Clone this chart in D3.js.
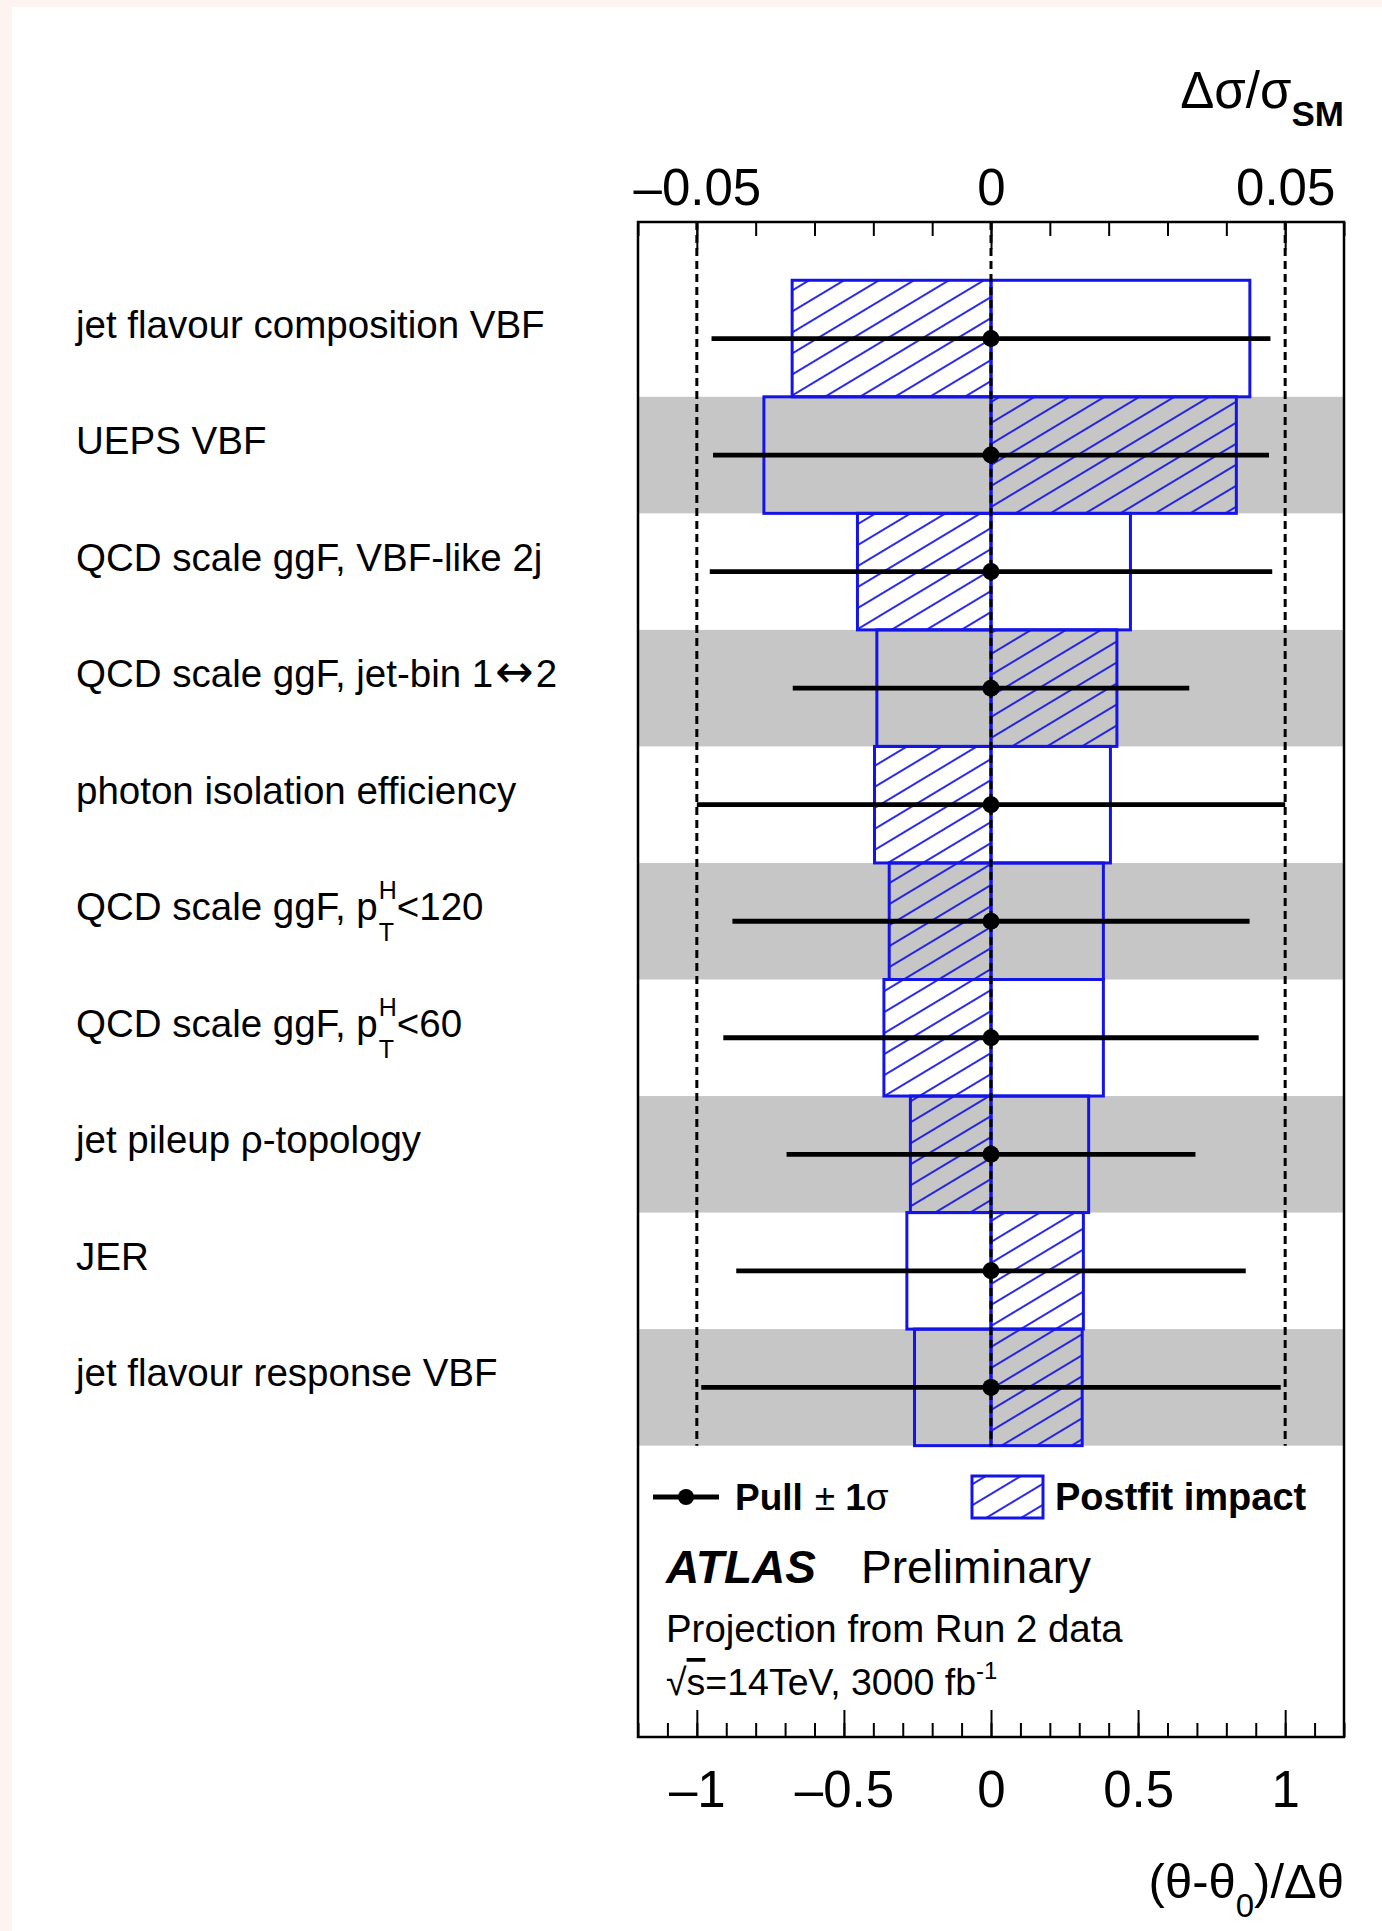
<!DOCTYPE html>
<html>
<head>
<meta charset="utf-8">
<script src="https://cdn.jsdelivr.net/npm/d3@7"></script>
<style>
  html, body { margin: 0; padding: 0; background: #fdf3f0; }
  svg { display: block; }
  text { font-family: "Liberation Sans", Arial, Helvetica, sans-serif; fill: #000; }
</style>
</head>
<body>
<svg id="chart" width="1382" height="1931"></svg>
<script>
// Nuisance parameters, ranked by impact (top = largest)
const parameters = [
  "jet flavour composition VBF",
  "UEPS VBF",
  "QCD scale ggF, VBF-like 2j",
  "QCD scale ggF, jet-bin 1\u21942",
  "photon isolation efficiency",
  "QCD scale ggF, p_{T}^{H}<120",
  "QCD scale ggF, p_{T}^{H}<60",
  "jet pileup \u03c1-topology",
  "JER",
  "jet flavour response VBF"
];
// Pull (θ-θ0)/Δθ and its ±1σ uncertainty
const pullValues = [0, 0, 0, 0, 0, 0, 0, 0, 0, 0];
const pullErrors = [0.95, 0.945, 0.956, 0.674, 1.0, 0.879, 0.91, 0.695, 0.866, 0.985];
// Post-fit impact on Δσ/σ_SM: hatched (+1σ) and open (−1σ) boxes
const impactPlus  = [-0.0338, 0.0417, -0.0227, 0.0214, -0.0198, -0.0173, -0.0182, -0.0137, 0.0157, 0.0155];
const impactMinus = [ 0.0440, -0.0386, 0.0237, -0.0194, 0.0203, 0.0191, 0.0191, 0.0166, -0.0143, -0.0130];
// Axis ticks
const impactTicks = [-0.05, 0, 0.05];
const pullTicks = [-1, -0.5, 0, 0.5, 1];
const impactMinorTicks = d3.range(-6, 7).map(i => i / 100);
const pullMinorTicks = d3.range(-12, 13).map(i => i / 10);

const svg = d3.select("#chart");
const BLUE = "#1414e6";

// white card
svg.append("rect").attr("x", 12).attr("y", 7).attr("width", 1370).attr("height", 1924).attr("fill", "#fff");

// frame geometry
const L = 638, R = 1344, T = 222, B = 1737;
const xPull = d3.scaleLinear().domain([-1.2, 1.2]).range([L, R]);
const xImp = d3.scaleLinear().domain([-0.06, 0.06]).range([L, R]);
const y = d3.scaleLinear().domain([-1, 12]).range([T, B]);

// hatch pattern
const defs = svg.append("defs");
const pat = defs.append("pattern")
  .attr("id", "hatch")
  .attr("patternUnits", "userSpaceOnUse")
  .attr("width", 10).attr("height", 18)
  .attr("patternTransform", "rotate(-31)");
pat.append("line")
  .attr("x1", -1).attr("x2", 11).attr("y1", 9).attr("y2", 9)
  .attr("stroke", BLUE).attr("stroke-width", 1.8);

// alternating grey bands
const plot = svg.append("g");
plot.selectAll("rect.band")
  .data(parameters.map((p, i) => i).filter(i => i % 2 === 1))
  .join("rect")
  .attr("class", "band")
  .attr("x", L).attr("width", R - L)
  .attr("y", i => y(i - 0.5)).attr("height", i => y(i + 0.5) - y(i - 0.5))
  .attr("fill", "#c6c6c6");

// impact boxes
function boxes(values, cls, fill) {
  plot.selectAll("rect." + cls)
    .data(values)
    .join("rect")
    .attr("class", cls)
    .attr("x", v => Math.min(xImp(0), xImp(v)))
    .attr("width", v => Math.abs(xImp(v) - xImp(0)))
    .attr("y", (v, i) => y(i - 0.5))
    .attr("height", (v, i) => y(i + 0.5) - y(i - 0.5))
    .attr("fill", fill)
    .attr("stroke", BLUE)
    .attr("stroke-width", 3);
}
boxes(impactMinus, "open", "none");
boxes(impactPlus, "hatched", "url(#hatch)");

// dashed reference lines at -1, 0, +1
plot.selectAll("line.ref")
  .data([-1, 0, 1])
  .join("line")
  .attr("class", "ref")
  .attr("x1", d => xPull(d)).attr("x2", d => xPull(d))
  .attr("y1", y(-1)).attr("y2", y(9.5))
  .attr("stroke", "#000").attr("stroke-width", 3)
  .attr("stroke-dasharray", "8,5");

// pulls with ±1σ bars
plot.selectAll("line.err")
  .data(pullValues)
  .join("line")
  .attr("class", "err")
  .attr("x1", (v, i) => xPull(v - pullErrors[i]))
  .attr("x2", (v, i) => xPull(v + pullErrors[i]))
  .attr("y1", (v, i) => y(i)).attr("y2", (v, i) => y(i))
  .attr("stroke", "#000").attr("stroke-width", 4.8);
plot.selectAll("circle.pull")
  .data(pullValues)
  .join("circle")
  .attr("class", "pull")
  .attr("cx", v => xPull(v)).attr("cy", (v, i) => y(i))
  .attr("r", 8.5).attr("fill", "#000");

// frame
svg.append("rect").attr("x", L).attr("y", T).attr("width", R - L).attr("height", B - T)
  .attr("fill", "none").attr("stroke", "#000").attr("stroke-width", 2.5);

// axes
const fmt = v => (v < 0 ? "\u2013" : "") + String(Math.abs(v));
function styleAxis(g) {
  g.select(".domain").remove();
  g.selectAll(".tick line").attr("stroke", "#000").attr("stroke-width", 2);
}
svg.append("g").attr("transform", `translate(0,${T})`)
  .call(d3.axisTop(xImp).tickValues(impactMinorTicks).tickSize(-14).tickFormat(""))
  .call(styleAxis);
svg.append("g").attr("transform", `translate(0,${T})`)
  .call(d3.axisTop(xImp).tickValues(impactTicks).tickSize(-27).tickFormat(fmt))
  .call(styleAxis)
  .call(g => g.selectAll("text").attr("y", -17).attr("dy", 0)
    .attr("font-size", 51).attr("font-family", null).attr("fill", "#000"));
svg.append("g").attr("transform", `translate(0,${B})`)
  .call(d3.axisBottom(xPull).tickValues(pullMinorTicks).tickSize(-14).tickFormat(""))
  .call(styleAxis);
svg.append("g").attr("transform", `translate(0,${B})`)
  .call(d3.axisBottom(xPull).tickValues(pullTicks).tickSize(-27).tickFormat(fmt))
  .call(styleAxis)
  .call(g => g.selectAll("text").attr("y", 70).attr("dy", 0)
    .attr("font-size", 51).attr("font-family", null).attr("fill", "#000"));

// axis titles
const topTitle = svg.append("text").attr("x", R).attr("y", 108).attr("text-anchor", "end");
topTitle.append("tspan").attr("font-size", 51).text("\u0394\u03c3/\u03c3");
topTitle.append("tspan").attr("font-size", 35).attr("font-weight", "bold").attr("dy", 18).text("SM");

const botTitle = svg.append("text").attr("x", R).attr("y", 1898).attr("text-anchor", "end").attr("font-size", 49);
botTitle.append("tspan").text("(\u03b8-\u03b8");
botTitle.append("tspan").attr("font-size", 33).attr("dy", 19).text("0");
botTitle.append("tspan").attr("dy", -19).text(")/\u0394\u03b8");

// parameter labels
const labels = svg.append("g").attr("font-size", 38.5);
function addRich(text, s) {
  // arrows come from DejaVu Sans, the rest stays in the base font
  s.split(/(\u2194)/).forEach((part, k, arr) => {
    if (!part) return;
    const ts = text.append("tspan").text(part);
    if (part === "\u2194") ts.attr("font-family", "DejaVu Sans").attr("font-size", 46).attr("dx", 2);
    else if (k > 0 && arr[k - 1] === "\u2194") ts.attr("dx", 2);
  });
}
function drawLabel(str, x, yy) {
  const m = str.match(/^(.*)_\{(.+?)\}\^\{(.+?)\}(.*)$/);
  if (!m) { addRich(labels.append("text").attr("x", x).attr("y", yy), str); return; }
  const t1 = labels.append("text").attr("x", x).attr("y", yy).text(m[1]);
  const w1 = t1.node().getComputedTextLength();
  const sub = labels.append("text").attr("x", x + w1 + 1).attr("y", yy + 21).attr("font-size", 25).text(m[2]);
  const sup = labels.append("text").attr("x", x + w1 + 1).attr("y", yy - 21).attr("font-size", 25).text(m[3]);
  const w2 = Math.max(sub.node().getComputedTextLength(), sup.node().getComputedTextLength());
  labels.append("text").attr("x", x + w1 + w2 + 1).attr("y", yy).text(m[4]);
}
parameters.forEach((p, i) => drawLabel(p, 76, y(i) - 1));

// legend
const leg = svg.append("g");
const legY = 1497;
leg.append("line").attr("x1", 653).attr("x2", 719).attr("y1", legY).attr("y2", legY)
  .attr("stroke", "#000").attr("stroke-width", 4.8);
leg.append("circle").attr("cx", 686).attr("cy", legY).attr("r", 8).attr("fill", "#000");
const pullTxt = leg.append("text").attr("x", 735).attr("y", 1510).attr("font-size", 37);
pullTxt.append("tspan").attr("font-weight", "bold").text("Pull");
pullTxt.append("tspan").attr("dx", 12).text("\u00b1");
pullTxt.append("tspan").attr("dx", 10).attr("font-weight", "bold").text("1");
pullTxt.append("tspan").text("\u03c3");
leg.append("rect").attr("x", 972).attr("y", 1476).attr("width", 71).attr("height", 42)
  .attr("fill", "url(#hatch)").attr("stroke", BLUE).attr("stroke-width", 3);
leg.append("text").attr("x", 1055).attr("y", 1510).attr("font-size", 38).attr("font-weight", "bold")
  .text("Postfit impact");

// experiment labels
const atlas = svg.append("text").attr("x", 666).attr("y", 1583).attr("font-size", 46);
atlas.append("tspan").attr("font-weight", "bold").attr("font-style", "italic").text("ATLAS");
atlas.append("tspan").attr("x", 861).text("Preliminary");
svg.append("text").attr("x", 666).attr("y", 1642).attr("font-size", 38.4).text("Projection from Run 2 data");
const lumi = svg.append("text").attr("x", 666).attr("y", 1695).attr("font-size", 37.5);
lumi.append("tspan").text("\u221a");
lumi.append("tspan").attr("text-decoration", "overline").text("s");
lumi.append("tspan").text("=14TeV, 3000 fb");
lumi.append("tspan").attr("font-size", 24).attr("dy", -16).text("-1");
</script>
</body>
</html>
